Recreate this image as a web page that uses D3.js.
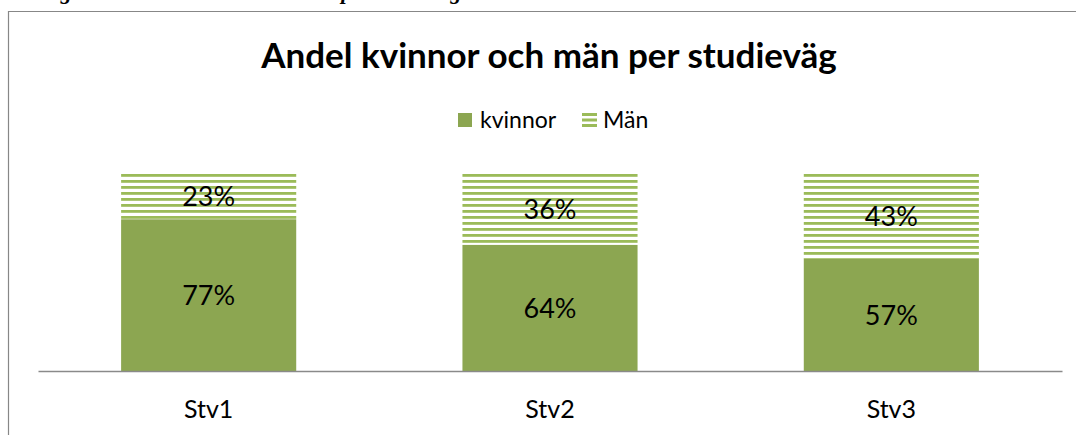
<!DOCTYPE html>
<html lang="sv">
<head>
  <meta charset="utf-8">
  <title>Andel kvinnor och män per studieväg</title>
  <script src="https://d3js.org/d3.v7.min.js" charset="utf-8"></script>
  <style type="text/css">
    body { margin: 0; background: #fff; }
    text { font-family: Lato, "Open Sans", sans-serif; fill: #000; }
  </style>
</head>
<body>
  <svg id="chart" width="1076" height="435" xmlns="http://www.w3.org/2000/svg"></svg>
  <script type="text/javascript">
    // data
    var categories = ['Stv1', 'Stv2', 'Stv3'];
    var kvinnor = [0.77, 0.64, 0.57];
    var man = [0.23, 0.36, 0.43];
    var seriesNames = ['kvinnor', 'Män'];

    var svg = d3.select('#chart');
    var solid = '#8ca651', stripe = '#9bbb59';

    // striped fill for "Män"
    var defs = svg.append('defs');
    var pat = defs.append('pattern')
      .attr('id', 'stripes')
      .attr('patternUnits', 'userSpaceOnUse')
      .attr('x', 0).attr('y', 174)
      .attr('width', 8).attr('height', 6);
    pat.append('rect').attr('width', 8).attr('height', 2.8).attr('fill', stripe);

    // caption above the chart box (only descenders show in the reference)
    svg.append('text')
      .attr('x', 40).attr('y', -1)
      .style('font-family', '"Liberation Serif", serif')
      .style('font-style', 'italic').style('font-weight', 'bold')
      .attr('font-size', 22)
      .text('Figur 2: Andel kvinnor och män per studieväg');

    // chart frame
    svg.append('path')
      .attr('d', 'M8.5,440 V11.5 H1080')
      .attr('fill', 'none').attr('stroke', '#878787').attr('stroke-width', 1.2);

    // title
    svg.append('text')
      .attr('x', 549).attr('y', 68)
      .attr('text-anchor', 'middle')
      .attr('font-size', 35).attr('font-weight', 'bold')
      .text('Andel kvinnor och män per studieväg');

    var x = d3.scaleBand().domain(categories).range([38, 1062])
      .paddingInner(0.487).paddingOuter(0.2435);
    var y = d3.scaleLinear().domain([0, 1]).range([371, 174]);

    var rows = categories.map(function(c, i) {
      return { cat: c, kvinnor: kvinnor[i], 'Män': man[i] };
    });
    var stacked = d3.stack().keys(seriesNames)(rows);
    var fills = [solid, 'url(#stripes)'];

    var layers = svg.selectAll('g.layer').data(stacked).enter()
      .append('g').attr('class', 'layer')
      .attr('fill', function(d, i) { return fills[i]; });

    layers.selectAll('rect').data(function(d) { return d; }).enter()
      .append('rect')
      .attr('x', function(d) { return x(d.data.cat); })
      .attr('width', x.bandwidth())
      .attr('y', function(d) { return y(d[1]); })
      .attr('height', function(d) { return y(d[0]) - y(d[1]); });

    // data labels
    layers.selectAll('text').data(function(d) { return d; }).enter()
      .append('text')
      .attr('x', function(d) { return x(d.data.cat) + x.bandwidth() / 2; })
      .attr('y', function(d) { return (y(d[0]) + y(d[1])) / 2; })
      .attr('dy', '0.36em')
      .attr('text-anchor', 'middle')
      .attr('font-size', 27)
      .style('fill', '#000')
      .text(function(d) { return Math.round((d[1] - d[0]) * 100) + '%'; });

    // category axis
    var axis = svg.append('g')
      .attr('transform', 'translate(0,371)')
      .call(d3.axisBottom(x).tickSize(0));
    axis.select('.domain').attr('stroke', '#8a8a8a').attr('stroke-width', 1.6);
    axis.selectAll('text')
      .attr('y', 47).attr('dy', 0)
      .style('font-family', 'Lato, "Open Sans", sans-serif')
      .attr('font-size', 25).style('fill', '#000');

    // legend
    var legend = svg.append('g').attr('transform', 'translate(458,113)');
    legend.append('rect').attr('width', 14).attr('height', 14).attr('fill', solid);
    legend.append('text').attr('x', 22).attr('y', 14.5).attr('font-size', 23).text(seriesNames[0]);
    var g2 = legend.append('g').attr('transform', 'translate(124,0)');
    [0, 5.5, 11].forEach(function(o) {
      g2.append('rect').attr('y', o).attr('width', 15).attr('height', 3).attr('fill', stripe);
    });
    g2.append('text').attr('x', 21).attr('y', 14.5).attr('font-size', 23).text(seriesNames[1]);
  </script>
</body>
</html>
